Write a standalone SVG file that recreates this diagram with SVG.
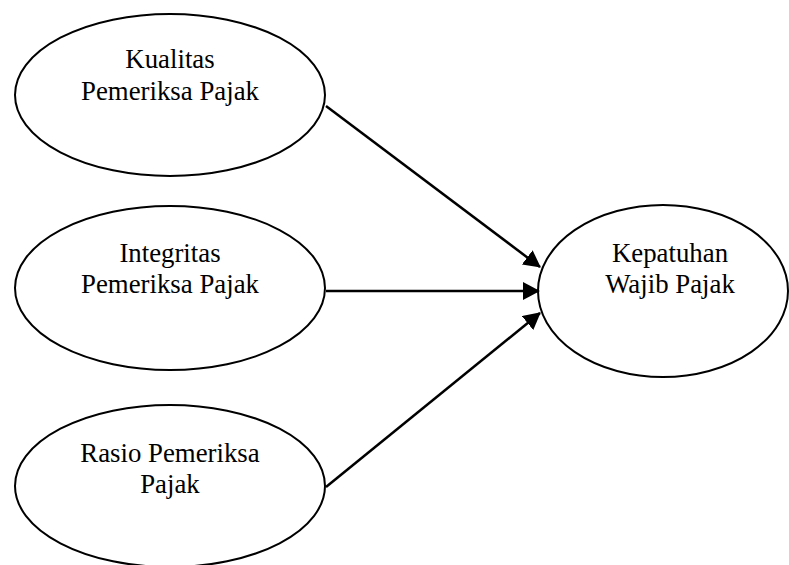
<svg xmlns="http://www.w3.org/2000/svg" width="789" height="565" viewBox="0 0 789 565">
<style>
.node ellipse{fill:#fff;stroke:#000;stroke-width:2}
.node text{font-family:"Liberation Serif","Times New Roman",serif;font-size:26.8px;fill:#000;text-anchor:middle}
.conn line{stroke:#000;stroke-width:2.5;fill:none}
</style>
<defs>
<marker id="arr" markerUnits="userSpaceOnUse" markerWidth="17" markerHeight="18" refX="16" refY="9" orient="auto" viewBox="0 0 17 18">
<path d="M0,0 L17,9 L0,18 z" fill="#000"/>
</marker>
</defs>
<rect width="789" height="565" fill="#fff"/>
<g id="n1" class="node">
<ellipse cx="170" cy="95" rx="155" ry="81"/>
<text x="170" y="68">Kualitas</text>
<text x="170" y="100">Pemeriksa Pajak</text>
</g>
<g id="n2" class="node">
<ellipse cx="170" cy="288" rx="155" ry="82"/>
<text x="170" y="262">Integritas</text>
<text x="170" y="293">Pemeriksa Pajak</text>
</g>
<g id="n3" class="node">
<ellipse cx="170" cy="486" rx="155" ry="81"/>
<text x="170" y="462">Rasio Pemeriksa</text>
<text x="170" y="493">Pajak</text>
</g>
<g id="n4" class="node">
<ellipse cx="663" cy="291" rx="125" ry="86"/>
<text x="670" y="262">Kepatuhan</text>
<text x="670" y="293">Wajib Pajak</text>
</g>
<g id="connectors" class="conn">
<line x1="326" y1="106" x2="540" y2="267" marker-end="url(#arr)"/>
<line x1="326" y1="291" x2="539" y2="291" marker-end="url(#arr)"/>
<line x1="326" y1="487" x2="540" y2="313" marker-end="url(#arr)"/>
</g>
</svg>
